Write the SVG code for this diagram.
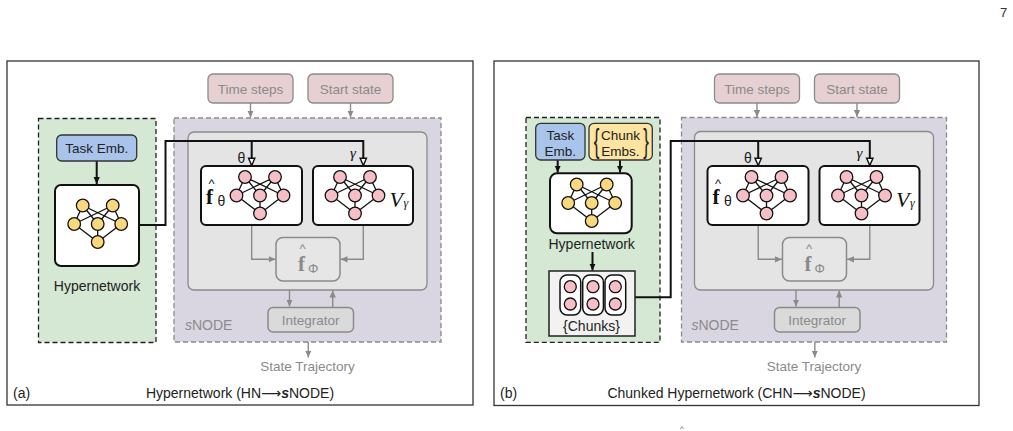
<svg xmlns="http://www.w3.org/2000/svg" xmlns:xlink="http://www.w3.org/1999/xlink" width="1013" height="431" viewBox="0 0 1013 431">
<style>
.t{font-family:"Liberation Sans",Arial,"DejaVu Sans",sans-serif;font-size:13.5px;fill:#222}
.g{fill:#8a8a8a}
.m{font-family:"Liberation Serif","Times New Roman",serif}
.panel{fill:#fff;stroke:#333;stroke-width:1.3}
.hn{fill:#d5e8d4;stroke:#222;stroke-width:1.3;stroke-dasharray:5 3}
.snode{fill:#d9d6e2;stroke:#8a8a8a;stroke-width:1.3;stroke-dasharray:5 3}
.inner{fill:#e4e4e4;stroke:#8a8a8a;stroke-width:1.3}
.inp{fill:#e6d0d2;stroke:#8a8a8a;stroke-width:1.3}
.gbox{fill:#e6e6e6;stroke:#8a8a8a;stroke-width:1.5}
.integ{fill:#dadada;stroke:#8a8a8a;stroke-width:1.5}
.net{fill:#fff;stroke:#111;stroke-width:2}
.task{fill:#a9c4eb;stroke:#333;stroke-width:1.3}
.chunk{fill:#fde4a0;stroke:#333;stroke-width:1.3}
.chbox{fill:#f2f2f2;stroke:#222;stroke-width:1.5}
.pill{fill:#fff;stroke:#111;stroke-width:1.5}
.pk{fill:#f6bfc6;stroke:#111;stroke-width:1.3}
.cb{fill:none;stroke:#111;stroke-width:2}
.cg{fill:none;stroke:#8a8a8a;stroke-width:1.4}
</style>
<defs>
<marker id="ah" viewBox="0 0 10 10" refX="9" refY="5" markerWidth="9" markerHeight="9" markerUnits="userSpaceOnUse" orient="auto">
<path d="M1,1.5 L9,5 L1,8.5 Z" fill="#fff" stroke="#111" stroke-width="1.6"/>
</marker>
<marker id="ab" viewBox="0 0 10 10" refX="10" refY="5" markerWidth="7" markerHeight="7" markerUnits="userSpaceOnUse" orient="auto">
<path d="M0,0.5 L10,5 L0,9.5 Z" fill="#111"/>
</marker>
<marker id="ag" viewBox="0 0 10 10" refX="10" refY="5" markerWidth="7" markerHeight="7" markerUnits="userSpaceOnUse" orient="auto">
<path d="M0,0.5 L10,5 L0,9.5 Z" fill="#8a8a8a"/>
</marker>
<g id="nn">
<g stroke="#111" stroke-width="1.3">
<line x1="-15" y1="-18.5" x2="-23.5" y2="0"/>
<line x1="-15" y1="-18.5" x2="0" y2="0"/>
<line x1="-15" y1="-18.5" x2="23.5" y2="0"/>
<line x1="15" y1="-18.5" x2="23.5" y2="0"/>
<line x1="15" y1="-18.5" x2="0" y2="0"/>
<line x1="15" y1="-18.5" x2="-23.5" y2="0"/>
<line x1="-23.5" y1="0" x2="0" y2="18"/>
<line x1="0" y1="0" x2="0" y2="18"/>
<line x1="23.5" y1="0" x2="0" y2="18"/>
</g>
<g stroke="#111" stroke-width="1.3">
<circle cx="-15" cy="-18.5" r="6.3"/>
<circle cx="15" cy="-18.5" r="6.3"/>
<circle cx="-23.5" cy="0" r="6.3"/>
<circle cx="0" cy="0" r="6.3"/>
<circle cx="23.5" cy="0" r="6.3"/>
<circle cx="0" cy="18" r="6.3"/>
</g>
</g>
</defs>

<text class="t" x="1000" y="16.5" style="font-size:13px;fill:#333">7</text>
<text class="t" x="682" y="431" text-anchor="middle" style="font-size:8px;fill:#555">^</text>

<!-- ================= containers ================= -->
<g id="panel-a">
<rect class="panel" x="7" y="61" width="466" height="344"/>
<g id="a-hn-group"><rect class="hn" x="38.5" y="118.5" width="117.5" height="224"/></g>
<g id="a-snode-group">
<rect class="snode" x="174" y="118" width="267" height="224"/>
<rect class="inner" x="188" y="132" width="239" height="158" rx="6"/>
<text class="t g" x="185" y="330" style="font-size:14px"><tspan font-style="italic">s</tspan>NODE</text>
</g>
</g>
<g id="panel-b">
<rect class="panel" x="494" y="61" width="485" height="344.5"/>
<g id="b-hn-group"><rect class="hn" x="526" y="117.5" width="134" height="224.8"/></g>
<g id="b-snode-group">
<rect class="snode" x="681.5" y="117.5" width="265" height="224.5"/>
<rect class="inner" x="694.5" y="131.5" width="239" height="158.5" rx="6"/>
<text class="t g" x="691.5" y="330" style="font-size:14px"><tspan font-style="italic">s</tspan>NODE</text>
</g>
</g>

<g id="connectors">
<!-- panel a -->
<path class="cb" d="M96.7,161 V184" marker-end="url(#ab)"/>
<path class="cb" d="M139,225 H165.5 V141 H363.3 V165.5" marker-end="url(#ah)"/>
<path class="cb" d="M251.7,141 V165.5" marker-end="url(#ah)"/>
<path class="cg" d="M250.5,103 V117.5" marker-end="url(#ag)"/>
<path class="cg" d="M350.5,103 V117.5" marker-end="url(#ag)"/>
<path class="cg" d="M251.7,225 V259.3 H275.5" marker-end="url(#ag)"/>
<path class="cg" d="M363.3,225 V259.3 H340.5" marker-end="url(#ag)"/>
<path class="cg" d="M289.5,290 V306.5" marker-end="url(#ag)"/>
<path class="cg" d="M332.7,307 V290.5" marker-end="url(#ag)"/>
<path class="cg" d="M308.3,342 V357.5" marker-end="url(#ag)"/>
<!-- panel b -->
<path class="cb" d="M557.7,160 V172.5" marker-end="url(#ab)"/>
<path class="cb" d="M620,160 V172.5" marker-end="url(#ab)"/>
<path class="cb" d="M592.5,252 V270.5" marker-end="url(#ab)"/>
<path class="cb" d="M635,297.3 H670.7 V141 H869.8 V165.5" marker-end="url(#ah)"/>
<path class="cb" d="M758.2,141 V165.5" marker-end="url(#ah)"/>
<path class="cg" d="M757,103 V117" marker-end="url(#ag)"/>
<path class="cg" d="M857,103 V117" marker-end="url(#ag)"/>
<path class="cg" d="M758.2,225 V259.3 H782" marker-end="url(#ag)"/>
<path class="cg" d="M869.8,225 V259.3 H847" marker-end="url(#ag)"/>
<path class="cg" d="M796,290 V306.5" marker-end="url(#ag)"/>
<path class="cg" d="M839.2,307 V290.5" marker-end="url(#ag)"/>
<path class="cg" d="M814.8,342 V357.5" marker-end="url(#ag)"/>
</g>

<!-- ================= Panel (a) nodes ================= -->
<g id="a-task-emb">
<rect class="task" x="56.7" y="135" width="80" height="26" rx="5"/>
<text class="t" x="96.7" y="153" text-anchor="middle">Task Emb.</text>
</g>
<g id="a-hypernetwork">
<rect class="net" x="55" y="185" width="84" height="81" rx="6"/>
<use xlink:href="#nn" x="97.7" y="224" fill="#fad97e"/>
<text class="t" x="97" y="291" text-anchor="middle" style="font-size:14px">Hypernetwork</text>
</g>
<g id="a-time-steps">
<rect class="inp" x="208" y="74" width="85" height="29" rx="5"/>
<text class="t g" x="250.5" y="93.5" text-anchor="middle">Time steps</text>
</g>
<g id="a-start-state">
<rect class="inp" x="308" y="74" width="85" height="29" rx="5"/>
<text class="t g" x="350.5" y="93.5" text-anchor="middle">Start state</text>
</g>
<g id="a-f-theta">
<text class="t" x="241.5" y="163" text-anchor="middle" style="font-size:14px">θ</text>
<rect class="net" x="201" y="166" width="101" height="59" rx="5"/>
<use xlink:href="#nn" x="260" y="195.5" fill="#f6bfc6"/>
<text class="t" x="211.5" y="188" text-anchor="middle" style="font-size:13px">^</text>
<text class="m" x="206" y="204" style="font-size:21px;font-weight:bold;fill:#111">f</text>
<text class="t" x="217.5" y="206" style="font-size:14px">θ</text>
</g>
<g id="a-v-gamma">
<text class="m" x="353" y="158" text-anchor="middle" style="font-size:15px;font-style:italic;fill:#111">γ</text>
<rect class="net" x="313" y="166" width="100" height="59" rx="5"/>
<use xlink:href="#nn" x="355" y="195.5" fill="#f6bfc6"/>
<text class="m" x="389.5" y="206.5" style="font-size:22px;font-style:italic;fill:#111">V</text>
<text class="m" x="403.5" y="207" style="font-size:12px;font-style:italic;fill:#111">γ</text>
</g>
<g id="a-f-phi">
<rect class="gbox" x="276" y="237.5" width="64" height="43.5" rx="7"/>
<text class="t g" x="302.5" y="253" text-anchor="middle" style="font-size:13px">^</text>
<text class="m g" x="298" y="271" style="font-size:21px;font-weight:bold">f</text>
<text class="t g" x="308" y="273" style="font-size:13px">Φ</text>
</g>
<g id="a-integrator">
<rect class="integ" x="268" y="307.5" width="85.5" height="24.5" rx="5"/>
<text class="t g" x="310.7" y="325" text-anchor="middle">Integrator</text>
</g>
<g id="a-state-trajectory">
<text class="t g" x="307.5" y="371" text-anchor="middle">State Trajectory</text>
</g>
<g id="a-caption">
<text class="t" x="13" y="398" style="font-size:14px">(a)</text>
<text class="t" x="240" y="398" text-anchor="middle" style="font-size:14px">Hypernetwork (HN⟶<tspan font-weight="bold" font-style="italic">s</tspan>NODE)</text>
</g>

<!-- ================= Panel (b) nodes ================= -->
<g id="b-task-emb">
<rect class="task" x="535.7" y="123.3" width="49.3" height="36.7" rx="5"/>
<text class="t" x="560.3" y="139.5" text-anchor="middle">Task</text>
<text class="t" x="560.3" y="156" text-anchor="middle">Emb.</text>
</g>
<g id="b-chunk-embs">
<rect class="chunk" x="589" y="123.3" width="63.3" height="36.7" rx="5"/>
<text class="t" transform="translate(596.5,152) scale(0.5,1)" text-anchor="middle" style="font-size:34px">{</text>
<text class="t" x="620.5" y="139.5" text-anchor="middle">Chunk</text>
<text class="t" x="620.5" y="156" text-anchor="middle">Embs.</text>
<text class="t" transform="translate(646,152) scale(0.5,1)" text-anchor="middle" style="font-size:34px">}</text>
</g>
<g id="b-hypernetwork">
<rect class="net" x="550" y="173.3" width="81.7" height="60" rx="7"/>
<use xlink:href="#nn" x="591.7" y="203" fill="#fad97e"/>
<text class="t" x="591.7" y="249" text-anchor="middle" style="font-size:14px">Hypernetwork</text>
</g>
<g id="b-chunks">
<rect class="chbox" x="549" y="271" width="86" height="65"/>
<rect class="pill" x="560" y="275" width="20.7" height="40" rx="7"/>
<rect class="pill" x="582.7" y="275" width="20.7" height="40" rx="7"/>
<rect class="pill" x="605" y="275" width="20.7" height="40" rx="7"/>
<circle class="pk" cx="570.3" cy="286.7" r="6"/>
<circle class="pk" cx="570.3" cy="304" r="6"/>
<circle class="pk" cx="593" cy="286.7" r="6"/>
<circle class="pk" cx="593" cy="304" r="6"/>
<circle class="pk" cx="615.3" cy="286.7" r="6"/>
<circle class="pk" cx="615.3" cy="304" r="6"/>
<text class="t" x="591.5" y="331" text-anchor="middle" style="font-size:14px">{Chunks}</text>
</g>
<g id="b-time-steps">
<rect class="inp" x="714.5" y="74" width="85" height="29" rx="5"/>
<text class="t g" x="757" y="93.5" text-anchor="middle">Time steps</text>
</g>
<g id="b-start-state">
<rect class="inp" x="814.5" y="74" width="85" height="29" rx="5"/>
<text class="t g" x="857" y="93.5" text-anchor="middle">Start state</text>
</g>
<g id="b-f-theta">
<text class="t" x="748" y="163" text-anchor="middle" style="font-size:14px">θ</text>
<rect class="net" x="707.5" y="166" width="101" height="59" rx="5"/>
<use xlink:href="#nn" x="766.5" y="195.5" fill="#f6bfc6"/>
<text class="t" x="718" y="188" text-anchor="middle" style="font-size:13px">^</text>
<text class="m" x="712.5" y="204" style="font-size:21px;font-weight:bold;fill:#111">f</text>
<text class="t" x="724" y="206" style="font-size:14px">θ</text>
</g>
<g id="b-v-gamma">
<text class="m" x="859.5" y="158" text-anchor="middle" style="font-size:15px;font-style:italic;fill:#111">γ</text>
<rect class="net" x="819.5" y="166" width="100" height="59" rx="5"/>
<use xlink:href="#nn" x="861.5" y="195.5" fill="#f6bfc6"/>
<text class="m" x="896" y="206.5" style="font-size:22px;font-style:italic;fill:#111">V</text>
<text class="m" x="910" y="207" style="font-size:12px;font-style:italic;fill:#111">γ</text>
</g>
<g id="b-f-phi">
<rect class="gbox" x="782.5" y="237.5" width="64" height="43.5" rx="7"/>
<text class="t g" x="809" y="253" text-anchor="middle" style="font-size:13px">^</text>
<text class="m g" x="804.5" y="271" style="font-size:21px;font-weight:bold">f</text>
<text class="t g" x="814.5" y="273" style="font-size:13px">Φ</text>
</g>
<g id="b-integrator">
<rect class="integ" x="774.5" y="307.5" width="85.5" height="24.5" rx="5"/>
<text class="t g" x="817.2" y="325" text-anchor="middle">Integrator</text>
</g>
<g id="b-state-trajectory">
<text class="t g" x="814" y="371" text-anchor="middle">State Trajectory</text>
</g>
<g id="b-caption">
<text class="t" x="500" y="398" style="font-size:14px">(b)</text>
<text class="t" x="736.5" y="398" text-anchor="middle" style="font-size:14px">Chunked Hypernetwork (CHN⟶<tspan font-weight="bold" font-style="italic">s</tspan>NODE)</text>
</g>
</svg>
